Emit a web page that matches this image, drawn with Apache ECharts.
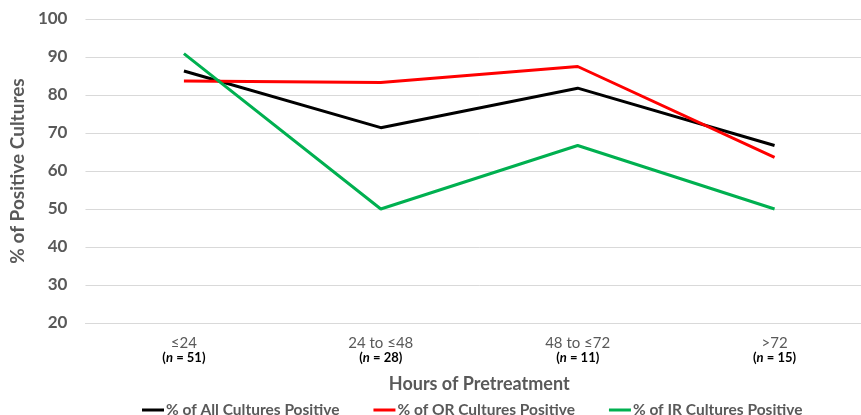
<!DOCTYPE html>
<html>
<head>
<meta charset="utf-8">
<script src="https://cdn.jsdelivr.net/npm/echarts@6/dist/echarts.min.js"></script>
<style>
  html, body { margin: 0; padding: 0; background: #fff; overflow: hidden; }
  #container { width: 873px; height: 415px; }
</style>
</head>
<body>
<div id="container"></div>
<script>
var categories = ['≤24', '24 to ≤48', '48 to ≤72', '>72'];
var sampleSizes = [51, 28, 11, 15];
var seriesNames = ['% of All Cultures Positive', '% of OR Cultures Positive', '% of IR Cultures Positive'];
var allPositive = [86.3, 71.4, 81.8, 66.7];
var orPositive = [83.7, 83.3, 87.5, 63.6];
var irPositive = [90.9, 50.0, 66.7, 50.0];
var colors = ['#000000', '#ff0000', '#00b050'];

var font = 'Lato, "Open Sans", sans-serif';
var dom = document.getElementById('container');
var myChart = echarts.init(dom);

function makeSeries(name, data, color) {
    return {
        name: name,
        type: 'line',
        data: data,
        symbol: 'none',
        color: color,
        lineStyle: {width: 3, color: color},
        animation: false
    };
}

var option = {
    textStyle: {fontFamily: font},
    legend: {
        top: 397,
        left: 137,
        itemWidth: 22,
        itemHeight: 3,
        itemGap: 34,
        icon: 'rect',
        textStyle: {fontSize: 15.5, fontWeight: 'bold', color: '#595959', fontFamily: font, padding: [0, 0, 0, -3]},
        data: seriesNames
    },
    grid: {
        left: 84.5,
        right: 0,
        top: 19,
        bottom: 92
    },
    xAxis: {
        type: 'category',
        data: categories,
        boundaryGap: true,
        axisLine: {lineStyle: {color: '#d9d9d9'}},
        axisTick: {show: false},
        axisLabel: {
            margin: 13,
            formatter: function (v, i) {
                return '{c|' + v + '}\n{n|(}{i|n}{n| = ' + sampleSizes[i] + ')}';
            },
            rich: {
                c: {fontSize: 15, color: '#595959', fontFamily: font, lineHeight: 15},
                n: {fontSize: 13, color: '#000', fontWeight: 'bold', fontFamily: font, lineHeight: 14},
                i: {fontSize: 13, color: '#000', fontWeight: 'bold', fontStyle: 'italic', fontFamily: font, lineHeight: 14}
            }
        },
        name: 'Hours of Pretreatment',
        nameLocation: 'middle',
        nameGap: 52,
        nameTextStyle: {fontSize: 18, fontWeight: 'bold', color: '#595959', fontFamily: font}
    },
    yAxis: {
        type: 'value',
        min: 20,
        max: 100,
        interval: 10,
        axisLine: {show: false},
        axisTick: {show: false},
        splitLine: {lineStyle: {color: '#d9d9d9', width: 1}},
        axisLabel: {fontSize: 17, fontWeight: 'bold', color: '#595959', margin: 18, fontFamily: font},
        name: '% of Positive Cultures',
        nameLocation: 'middle',
        nameRotate: 90,
        nameGap: 58,
        nameTextStyle: {fontSize: 19, fontWeight: 'bold', color: '#595959', fontFamily: font}
    },
    series: [
        makeSeries(seriesNames[0], allPositive, colors[0]),
        makeSeries(seriesNames[1], orPositive, colors[1]),
        makeSeries(seriesNames[2], irPositive, colors[2])
    ]
};

myChart.setOption(option, true);
</script>
</body>
</html>
